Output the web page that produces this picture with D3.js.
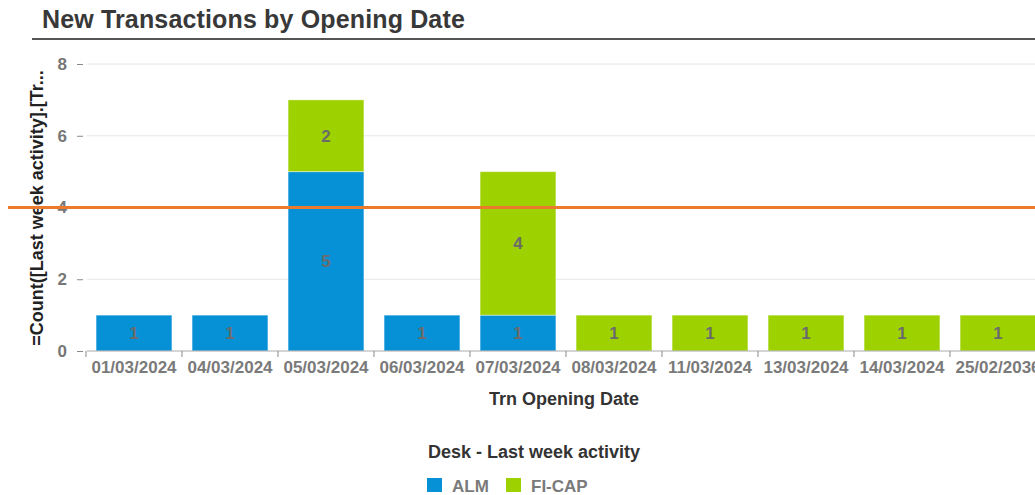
<!DOCTYPE html>
<html>
<head>
<meta charset="utf-8">
<script src="https://cdn.jsdelivr.net/npm/d3@7"></script>
<style>
  body { margin: 0; background: #fff; overflow: hidden; }
  text { font-family: "Liberation Sans", Arial, sans-serif; }
</style>
</head>
<body>
<div id="chart"></div>
<script>
// Chart data
var dates = ["01/03/2024", "04/03/2024", "05/03/2024", "06/03/2024", "07/03/2024",
             "08/03/2024", "11/03/2024", "13/03/2024", "14/03/2024", "25/02/2036"];
var almValues = [1, 1, 5, 1, 1, 0, 0, 0, 0, 0];
var ficapValues = [0, 0, 2, 0, 4, 1, 1, 1, 1, 1];
var seriesNames = ["ALM", "FI-CAP"];
var yTicks = [0, 2, 4, 6, 8];
var targetValue = 4;

var colors = { "ALM": "#0690d6", "FI-CAP": "#9dd100" };

var svgWidth = 1035;
var svgHeight = 495;

var svg = d3.select("#chart")
  .append("svg")
  .attr("width", svgWidth)
  .attr("height", svgHeight);

// Title + rule under it
svg.append("text")
  .attr("x", 42)
  .attr("y", 28)
  .style("font-size", "25px")
  .style("font-weight", "bold")
  .style("fill", "#383838")
  .style("letter-spacing", "0.15px")
  .text("New Transactions by Opening Date");

svg.append("line")
  .attr("x1", 32).attr("x2", svgWidth)
  .attr("y1", 39).attr("y2", 39)
  .attr("stroke", "#555")
  .attr("stroke-width", 2);

// Build stacked table
var table = dates.map(function (d, i) {
  return { date: d, "ALM": almValues[i], "FI-CAP": ficapValues[i] };
});
var stacked = d3.stack().keys(seriesNames)(table);

// Scales
var xScale = d3.scaleBand()
  .domain(dates)
  .range([86, 1046])
  .paddingInner(0.21)
  .paddingOuter(0.105);

var yScale = d3.scaleLinear()
  .domain([0, 8])
  .range([351, 64]);

// Gridlines
svg.append("g")
  .selectAll("line")
  .data(yTicks.slice(1))
  .enter()
  .append("line")
  .attr("x1", 87).attr("x2", svgWidth)
  .attr("y1", d => yScale(d)).attr("y2", d => yScale(d))
  .attr("stroke", "#e6e6e6")
  .attr("stroke-width", 1);

// Y axis
var yAxis = svg.append("g")
  .attr("transform", "translate(83,0)")
  .call(d3.axisLeft(yScale).tickValues(yTicks).tickSize(6).tickPadding(10));
yAxis.select(".domain").remove();
yAxis.selectAll(".tick line").attr("stroke", "#888");
yAxis.selectAll("text")
  .style("font-size", "17px")
  .style("font-weight", "bold")
  .style("fill", "#777");

// Bars
var layer = svg.append("g")
  .selectAll("g")
  .data(stacked)
  .enter()
  .append("g")
  .attr("fill", d => colors[d.key]);

layer.selectAll("rect")
  .data(d => d.filter(p => p[1] - p[0] > 0))
  .enter()
  .append("rect")
  .attr("x", d => xScale(d.data.date))
  .attr("y", d => yScale(d[1]))
  .attr("width", xScale.bandwidth())
  .attr("height", d => yScale(d[0]) - yScale(d[1]))
  .attr("stroke", "rgba(255,255,255,0.45)")
  .attr("stroke-width", 1);

// Value labels inside segments
layer.selectAll("text")
  .data(d => d.filter(p => p[1] - p[0] > 0))
  .enter()
  .append("text")
  .attr("x", d => xScale(d.data.date) + xScale.bandwidth() / 2)
  .attr("y", d => yScale((d[0] + d[1]) / 2))
  .attr("dy", "0.36em")
  .style("text-anchor", "middle")
  .style("font-size", "17px")
  .style("font-weight", "bold")
  .style("fill", "#6b6b6b")
  .text(d => d[1] - d[0]);

// X axis
var step = xScale.step();
var gap = step - xScale.bandwidth();
var xAxis = svg.append("g")
  .attr("transform", "translate(0,351)")
  .call(d3.axisBottom(xScale).tickSize(0).tickPadding(10));
xAxis.select(".domain")
  .attr("d", "M87,0H" + svgWidth)
  .attr("stroke", "#aaa");
xAxis.selectAll("text")
  .style("font-size", "17px")
  .style("font-weight", "bold")
  .style("fill", "#7a7a7a");

// Boundary ticks between categories
xAxis.selectAll(".boundary")
  .data(dates)
  .enter()
  .append("line")
  .attr("class", "boundary")
  .attr("x1", d => xScale(d) - gap / 2)
  .attr("x2", d => xScale(d) - gap / 2)
  .attr("y1", 0).attr("y2", 6)
  .attr("stroke", "#888");

// Axis titles
svg.append("text")
  .attr("transform", "translate(43,208) rotate(-90)")
  .style("text-anchor", "middle")
  .style("font-size", "18px")
  .style("font-weight", "bold")
  .style("fill", "#222")
  .text("=Count([Last week activity].[Tr...");

svg.append("text")
  .attr("x", 564)
  .attr("y", 405)
  .style("text-anchor", "middle")
  .style("font-size", "18px")
  .style("font-weight", "bold")
  .style("fill", "#333")
  .text("Trn Opening Date");

// Target line
svg.append("line")
  .attr("x1", 8).attr("x2", svgWidth)
  .attr("y1", yScale(targetValue)).attr("y2", yScale(targetValue))
  .attr("stroke", "#ec7a2c")
  .attr("stroke-width", 3);

// Legend
svg.append("text")
  .attr("x", 534)
  .attr("y", 458)
  .style("text-anchor", "middle")
  .style("font-size", "18px")
  .style("font-weight", "bold")
  .style("fill", "#333")
  .text("Desk - Last week activity");

var legendX = [427, 506];
var legend = svg.append("g")
  .selectAll("g")
  .data(seriesNames)
  .enter()
  .append("g")
  .attr("transform", (d, i) => `translate(${legendX[i]}, 478)`);

legend.append("rect")
  .attr("width", 15)
  .attr("height", 14)
  .attr("fill", d => colors[d]);

legend.append("text")
  .attr("x", 25)
  .attr("y", 14)
  .style("font-size", "17px")
  .style("font-weight", "bold")
  .style("fill", "#7a7a7a")
  .text(d => d);
</script>
</body>
</html>
